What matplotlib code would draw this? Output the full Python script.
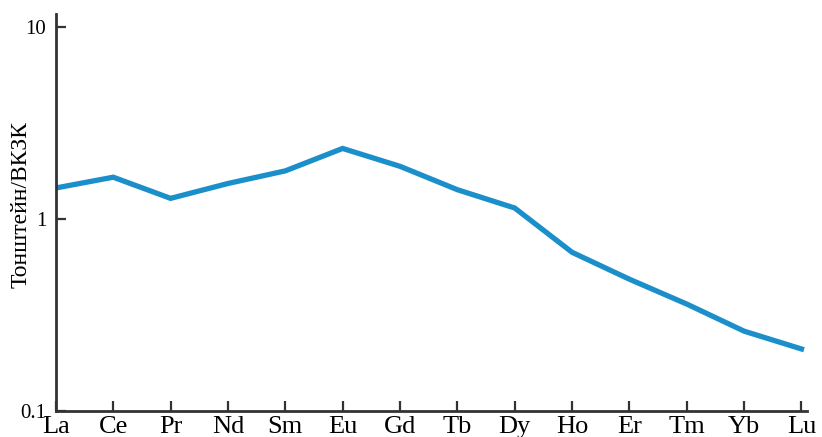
import matplotlib.pyplot as plt
from matplotlib.ticker import FixedLocator, FixedFormatter, NullLocator

elements = ['La', 'Ce', 'Pr', 'Nd', 'Sm', 'Eu', 'Gd', 'Tb', 'Dy', 'Ho', 'Er', 'Tm', 'Yb', 'Lu']
ratio = [1.45, 1.65, 1.28, 1.53, 1.78, 2.33, 1.88, 1.42, 1.14, 0.67, 0.485, 0.36, 0.26, 0.21]

yticks = [0.1, 1, 10]
ytick_labels = ['0.1', '1', '10']

plt.rcParams['font.family'] = ['Liberation Serif', 'DejaVu Serif']

fig = plt.figure(figsize=(8.22, 4.37), dpi=100)
ax = fig.add_axes([0.068, 0.06, 0.914, 0.908])

x = list(range(len(elements)))
ax.plot(x, ratio, color='#1b8fca', lw=3.8, solid_joinstyle='miter')

ax.set_yscale('log')
ax.set_ylim(0.1, 11.7)
ax.set_xlim(0, 13.1)

ax.yaxis.set_major_locator(FixedLocator(yticks))
ax.yaxis.set_major_formatter(FixedFormatter(ytick_labels))
ax.yaxis.set_minor_locator(NullLocator())
ax.set_xticks(x)
ax.set_xticklabels(elements)

for side in ['top', 'right']:
    ax.spines[side].set_visible(False)
for side in ['left', 'bottom']:
    ax.spines[side].set_linewidth(2)
    ax.spines[side].set_color('#333333')

ax.tick_params(axis='x', direction='in', length=7, width=1.6, color='#333333',
               labelsize=19, pad=4)
ax.tick_params(axis='y', direction='in', length=7, width=1.6, color='#333333',
               labelsize=15, pad=7)

# y-axis title placed in figure coords so it stays inside the canvas
fig.text(21 / 822, 1 - 205 / 437, 'Тонштейн/ВКЗК', rotation=90,
         fontsize=17, ha='center', va='center')

fig.savefig('out.png', dpi=100)
